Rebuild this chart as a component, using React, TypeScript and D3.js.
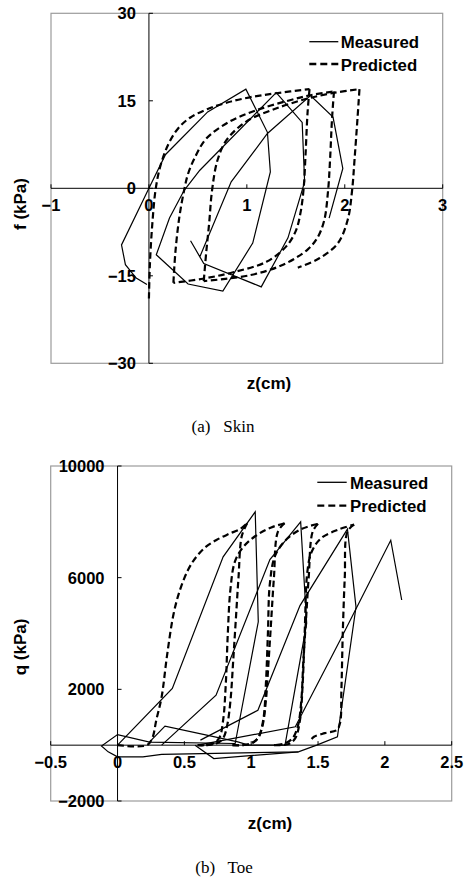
import React from 'react';
import * as d3 from 'd3';

type Pt = [number, number];

// (a) Skin : f (kPa) against z (cm)
const skinZTicks = [-1, 0, 1, 2, 3];
const skinFTicks = [-30, -15, 0, 15, 30];

const skinMeasured: Pt[] = [
  [-0.02, -16.5], [-0.13, -15.4], [-0.24, -13.1], [-0.28, -9.7], [0, 0], [0.17, 5.8],
  [0.6, 13.1], [0.99, 17.0], [1.21, 9.6], [1.24, 2.8], [1.06, -9.4], [0.755, -17.6],
  [0.4, -16.4], [0.075, -11.4], [0.21, -5.1], [0.36, -0.35], [0.52, 3.1], [1.3, 16.4],
  [1.565, 11.3], [1.59, 1.1], [1.42, -8.5], [1.147, -16.9], [0.56, -12.9], [0.425, -9.0],
  [0.52, -11.74], [0.84, 1.1], [1.21, 9.4], [1.65, 15.9], [1.88, 12.2], [1.98, 3.4], [1.84, -5.1],
];

const skinPredLoad1: Pt[] = [
  [0, -18.9], [0.01, -13], [0.035, -6], [0.07, 0], [0.12, 4], [0.2, 7.6], [0.3, 10.3],
  [0.42, 12.1], [0.6, 13.6], [0.8, 14.7], [1.03, 15.6], [1.3, 16.3], [1.64, 17.0],
];
const skinPredUnload1: Pt[] = [
  [1.64, 17.0], [1.62, 13], [1.6, 6], [1.58, 0], [1.55, -4], [1.5, -7.3], [1.4, -10.0],
  [1.2, -12.6], [0.86, -14.4], [0.55, -15.5], [0.25, -16.2],
];
const skinPredLoad2: Pt[] = [
  [0.25, -16.2], [0.27, -11], [0.31, -5], [0.36, -0.3], [0.4, 2.5], [0.47, 5.3], [0.585, 8.5],
  [0.82, 11.4], [1.1, 13.4], [1.44, 15.1], [1.66, 16.0], [1.89, 16.6],
];
const skinPredUnload2: Pt[] = [
  [1.89, 16.6], [1.87, 12], [1.85, 5], [1.83, -0.3], [1.79, -5.5], [1.72, -8.5], [1.62, -10.5],
  [1.37, -13.1], [1.03, -14.9], [0.56, -15.9],
];
const skinPredLoad3: Pt[] = [
  [0.56, -15.9], [0.585, -11], [0.615, -6], [0.645, -0.3], [0.7, 4.8], [0.79, 8.2], [0.99, 11.4],
  [1.27, 13.5], [1.6, 15.3], [1.9, 16.4], [2.15, 17.0],
];
const skinPredUnload3: Pt[] = [
  [2.15, 17.0], [2.13, 12], [2.1, 5], [2.075, -0.3], [2.03, -5.4], [1.93, -9.4], [1.74, -12.0],
  [1.52, -13.6],
];

// (b) Toe : q (kPa) against z (cm)
const toeZTicks = [-0.5, 0, 0.5, 1, 1.5, 2, 2.5];
const toeQTicks = [-2000, 2000, 6000, 10000];

const toeMeasuredA: Pt[] = [
  [0, 0], [0.41, 2030], [0.79, 6745], [1.03, 8360], [1.053, 4420], [0.88, 60], [0.24, 110],
  [0, 380], [-0.12, -30], [-0.07, -240], [0, -420], [0.19, -420], [0.33, -330], [1.353, -240],
  [1.49, 0], [1.645, 300], [1.784, 4950], [1.72, 7740], [1.365, 5000], [1.05, 1250], [0.62, 180],
];
const toeMeasuredB: Pt[] = [
  [0.33, 0], [0.737, 1790], [1.14, 6650], [1.37, 8000], [1.415, 4360], [1.253, 0], [0.98, 0],
  [0.9, 120], [0.65, 380], [0.355, 680], [0.24, 120],
];
const toeMeasuredC: Pt[] = [[0.58, 0], [0.72, -480], [1.353, -240]];
const toeMeasuredD: Pt[] = [[0.6, 0], [1.33, 660], [1.665, 3760], [2.044, 7340], [2.126, 5200]];

const toePredLoad1: Pt[] = [
  [0, 0], [0.22, 0], [0.26, 250], [0.29, 900], [0.33, 1730], [0.37, 3200], [0.42, 4720],
  [0.47, 5600], [0.53, 6300], [0.59, 6750], [0.66, 7100], [0.74, 7350], [0.83, 7560],
  [0.92, 7750], [0.97, 7950],
];
const toePredUnload1: Pt[] = [
  [0.97, 7950], [0.93, 7500], [0.905, 6000], [0.885, 4500], [0.865, 3000], [0.845, 1600],
  [0.82, 700], [0.79, 250], [0.74, 60], [0.66, 0], [0.6, 0],
];
const toePredLoad2: Pt[] = [
  [0.6, 0], [0.7, 30], [0.76, 250], [0.79, 900], [0.81, 2200], [0.825, 4000], [0.845, 5600],
  [0.88, 6600], [0.95, 7150], [1.05, 7550], [1.15, 7800], [1.25, 7950],
];
const toePredUnload2: Pt[] = [
  [1.25, 7950], [1.2, 7650], [1.17, 6000], [1.15, 4500], [1.13, 3000], [1.11, 1600],
  [1.085, 700], [1.05, 250], [1.0, 60], [0.92, 0], [0.86, 0],
];
const toePredLoad3: Pt[] = [
  [0.86, 0], [0.98, 30], [1.05, 250], [1.09, 900], [1.11, 2200], [1.125, 4000], [1.14, 5800],
  [1.18, 6800], [1.27, 7400], [1.38, 7750], [1.5, 7930],
];
const toePredUnload3: Pt[] = [
  [1.5, 7930], [1.46, 7650], [1.43, 6000], [1.41, 4500], [1.39, 3000], [1.375, 1600],
  [1.35, 700], [1.31, 250], [1.25, 60], [1.17, 0],
];
const toePredLoad4: Pt[] = [
  [1.17, 0], [1.28, 40], [1.33, 250], [1.365, 900], [1.385, 2200], [1.4, 4000], [1.42, 6200],
  [1.45, 6900], [1.52, 7400], [1.65, 7720], [1.77, 7900],
];
const toePredUnload4: Pt[] = [
  [1.77, 7900], [1.72, 7650], [1.7, 6000], [1.685, 4000], [1.675, 2000], [1.665, 800],
  [1.64, 540], [1.55, 430], [1.47, 300], [1.44, 150],
];

const BOLD = '"Liberation Sans", Arial, Helvetica, sans-serif';
const SERIF = '"Liberation Serif", "Times New Roman", serif';

const fmt = (v: number) => (v < 0 ? '\u2212' + Math.abs(v) : String(v));

function Panel(p: any) {
  const x = d3.scaleLinear().domain(p.xDomain).range([p.left, p.right]);
  const y = d3.scaleLinear().domain(p.yDomain).range([p.bottom, p.top]);
  const straight = d3.line<Pt>().x(d => x(d[0])).y(d => y(d[1]));
  const smooth = d3.line<Pt>().x(d => x(d[0])).y(d => y(d[1])).curve(d3.curveCatmullRom.alpha(0.5));
  const x0 = x(0);
  const y0 = y(0);

  return (
    <g>
      <rect x={p.left} y={p.top} width={p.right - p.left} height={p.bottom - p.top}
        fill="none" stroke="#9c9c9c" strokeWidth={1.2} />
      <line x1={p.left} x2={p.right} y1={y0} y2={y0} stroke="#000" strokeWidth={1} />
      <line x1={x0} x2={x0} y1={p.top} y2={p.bottom} stroke="#000" strokeWidth={1} />

      {p.xTicks.map((t: number) => (
        <g key={'x' + t}>
          <line x1={x(t)} x2={x(t)} y1={y0} y2={y0 - 4} stroke="#000" />
          <text x={x(t)} y={y0 + 22.7} textAnchor="middle" fontFamily={BOLD} fontWeight="bold" fontSize={16.5}>
            {fmt(t)}
          </text>
        </g>
      ))}
      {p.yTicks.map((t: number) => (
        <g key={'y' + t}>
          <line x1={x0} x2={x0 + 4} y1={y(t)} y2={y(t)} stroke="#000" />
          <text x={x0 - 13} y={y(t) + 6} textAnchor="end" fontFamily={BOLD} fontWeight="bold" fontSize={16.5}>
            {fmt(t)}
          </text>
        </g>
      ))}

      {p.predicted.map((run: Pt[], i: number) => (
        <path key={'p' + i} d={smooth(run) || ''} fill="none" stroke="#000" strokeWidth={2.2}
          strokeDasharray="6.5,3.5" />
      ))}
      {p.measured.map((run: Pt[], i: number) => (
        <path key={'m' + i} d={straight(run) || ''} fill="none" stroke="#000" strokeWidth={1.2}
          strokeLinejoin="miter" />
      ))}

      <text x={p.xTitle[0]} y={p.xTitle[1]} textAnchor="middle" fontFamily={BOLD} fontWeight="bold" fontSize={17}>
        z(cm)
      </text>
      <text transform={`translate(${p.yTitle[0]},${p.yTitle[1]}) rotate(-90)`} textAnchor="middle"
        fontFamily={BOLD} fontWeight="bold" fontSize={17}>
        {p.yLabel}
      </text>

      <line x1={p.leg[0]} x2={p.leg[1]} y1={p.leg[3]} y2={p.leg[3]} stroke="#000" strokeWidth={1.3} />
      <text x={p.leg[2]} y={p.leg[3] + 6.6} fontFamily={BOLD} fontWeight="bold" fontSize={16.8}>Measured</text>
      <line x1={p.leg[0]} x2={p.leg[1]} y1={p.leg[4]} y2={p.leg[4]} stroke="#000" strokeWidth={2.3}
        strokeDasharray="7,4" />
      <text x={p.leg[2]} y={p.leg[4] + 6.6} fontFamily={BOLD} fontWeight="bold" fontSize={16.8}>Predicted</text>

      <text x={p.caption[0]} y={p.caption[1]} textAnchor="middle" fontFamily={SERIF} fontSize={17}
        style={{ whiteSpace: 'pre' }}>
        {p.captionText}
      </text>
    </g>
  );
}

export default function App() {
  return (
    <svg width={469} height={878} viewBox="0 0 469 878"
      style={{ position: 'absolute', left: 0, top: 0, background: '#fff' }}>
      <rect width={469} height={878} fill="#fff" />
      <Panel
        xDomain={[-1, 3]} yDomain={[-30, 30]}
        left={51} right={442.7} top={13.3} bottom={363.3}
        xTicks={skinZTicks} yTicks={skinFTicks}
        measured={[skinMeasured]}
        predicted={[skinPredLoad1, skinPredUnload1, skinPredLoad2, skinPredUnload2, skinPredLoad3, skinPredUnload3]}
        xTitle={[269, 388.5]} yTitle={[26, 204]} yLabel="f (kPa)"
        leg={[309.3, 338.3, 340.7, 41.7, 64]}
        caption={[223, 432]} captionText="(a)   Skin"
      />
      <Panel
        xDomain={[-0.5, 2.5]} yDomain={[-2000, 10000]}
        left={50.7} right={451.7} top={466} bottom={801}
        xTicks={toeZTicks} yTicks={toeQTicks}
        measured={[toeMeasuredA, toeMeasuredB, toeMeasuredC, toeMeasuredD]}
        predicted={[toePredLoad1, toePredUnload1, toePredLoad2, toePredUnload2, toePredLoad3,
          toePredUnload3, toePredLoad4, toePredUnload4]}
        xTitle={[270, 828.5]} yTitle={[26, 647]} yLabel="q (kPa)"
        leg={[317.3, 346.7, 350, 482.3, 505.7]}
        caption={[224, 873]} captionText="(b)   Toe"
      />
    </svg>
  );
}
